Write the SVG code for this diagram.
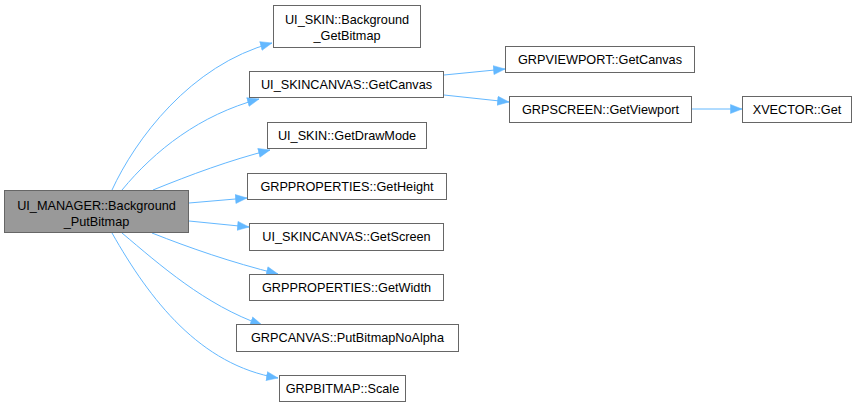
<svg xmlns="http://www.w3.org/2000/svg" width="859" height="408" viewBox="0 0 859 408">
<style>
.n rect{fill:#ffffff;stroke:#666666;stroke-width:1}
.m rect{fill:#999999;stroke:#666666;stroke-width:1}
text{font-family:"Liberation Sans",Arial,sans-serif;font-size:12.7px;fill:#000000;text-anchor:middle}
.e path{fill:none;stroke:#63b8ff;stroke-width:1;marker-end:url(#ah)}
</style>
<defs>
<marker id="ah" markerUnits="userSpaceOnUse" markerWidth="12" markerHeight="10" refX="12" refY="5" orient="auto">
<path d="M0.5,0.5 L12,5 L0.5,9.5 z" fill="#63b8ff" stroke="#63b8ff" stroke-width="0.5"/>
</marker>
</defs>
<rect width="859" height="408" fill="#ffffff"/>
<g id="edges" class="e">
<path d="M112,190 C135,140 190,65 272,43"/>
<path d="M122,190 C155,150 200,115 259,99"/>
<path d="M153,190 C190,175 230,160 270,150"/>
<path d="M189,203 L247,198"/>
<path d="M189,221 L249,227"/>
<path d="M152,233 C190,248 230,262 278,274"/>
<path d="M122,233 C160,265 205,305 262,325"/>
<path d="M112,233 C150,300 200,365 278,378"/>
<path d="M444,75 L505,69"/>
<path d="M444,95 L509,102"/>
<path d="M692,109 L742,109"/>
</g>
<g id="node_main" class="m"><rect x="4.5" y="190.5" width="184" height="42"/><text x="96.5" y="210">UI_MANAGER::Background</text><text x="96.5" y="226">_PutBitmap</text></g>
<g id="node_bg" class="n"><rect x="273.5" y="5.5" width="147" height="42"/><text x="347" y="24">UI_SKIN::Background</text><text x="347" y="40">_GetBitmap</text></g>
<g id="node_getcanvas" class="n"><rect x="249.5" y="71.5" width="194" height="26"/><text x="346.5" y="89">UI_SKINCANVAS::GetCanvas</text></g>
<g id="node_vpcanvas" class="n"><rect x="505.5" y="46.5" width="189" height="26"/><text x="600" y="64">GRPVIEWPORT::GetCanvas</text></g>
<g id="node_getviewport" class="n"><rect x="509.5" y="96.5" width="182" height="26"/><text x="600.5" y="114">GRPSCREEN::GetViewport</text></g>
<g id="node_xvector" class="n"><rect x="742.5" y="96.5" width="109" height="26"/><text x="797" y="114">XVECTOR::Get</text></g>
<g id="node_drawmode" class="n"><rect x="267.5" y="122.5" width="159" height="26"/><text x="347" y="140">UI_SKIN::GetDrawMode</text></g>
<g id="node_height" class="n"><rect x="247.5" y="173.5" width="199" height="26"/><text x="347" y="191">GRPPROPERTIES::GetHeight</text></g>
<g id="node_screen" class="n"><rect x="249.5" y="223.5" width="194" height="27"/><text x="346.5" y="241">UI_SKINCANVAS::GetScreen</text></g>
<g id="node_width" class="n"><rect x="249.5" y="274.5" width="194" height="26"/><text x="346.5" y="292">GRPPROPERTIES::GetWidth</text></g>
<g id="node_putbitmap" class="n"><rect x="236.5" y="324.5" width="222" height="27"/><text x="347.5" y="342">GRPCANVAS::PutBitmapNoAlpha</text></g>
<g id="node_scale" class="n"><rect x="279.5" y="375.5" width="126" height="26"/><text x="342.5" y="393">GRPBITMAP::Scale</text></g>
</svg>
